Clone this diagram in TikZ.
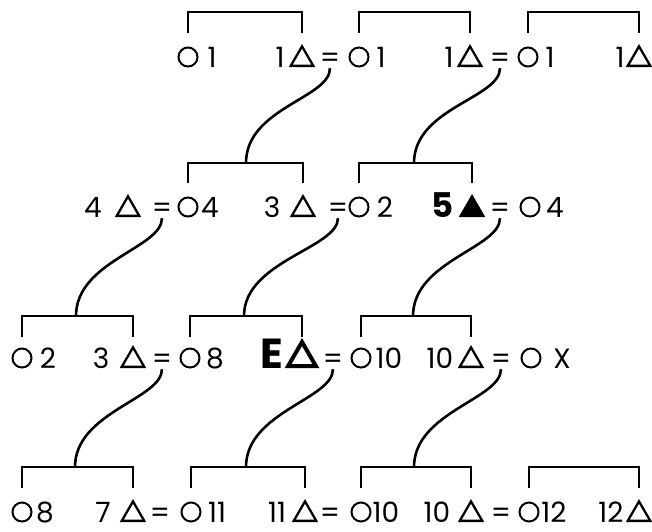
\documentclass[tikz,border=0pt]{standalone}
\usepackage{fontspec}
\setmainfont{Poppins}
\usetikzlibrary{shapes.geometric,calc}
\begin{document}
\begin{tikzpicture}[x=1pt,y=-1pt,
  brk/.style={line width=2.8pt},
  lnk/.style={line width=2.6pt},
  fem/.style={circle,draw,line width=2pt,inner sep=0pt,minimum size=19pt},
  mal/.style={regular polygon,regular polygon sides=3,draw,line width=2.3pt,inner sep=0pt,minimum size=26pt,anchor=south},
  malf/.style={mal,fill=black},
  malb/.style={mal,line width=4pt,minimum size=32pt},
  num/.style={inner sep=0pt,anchor=base,text depth=0pt,font=\fontsize{28}{28}\selectfont},
  bnum/.style={inner sep=0pt,anchor=base,text depth=0pt,font=\bfseries\fontsize{34}{34}\selectfont},
  bbig/.style={inner sep=0pt,anchor=base,text depth=0pt,font=\bfseries\fontsize{42}{42}\selectfont}]
\useasboundingbox (0,0) rectangle (652,531);

% ---------- Row 1 ----------
\node[fem] (fA1) at (188,57) {};
\node[num] (nA1) at (212,67) {1};
\node[num] (nA2) at (280,67) {1};
\node[mal] (mA1) at (302,67) {};
\node[num] (eA1) at (330,67) {=};
\node[fem] (fA2) at (359,57) {};
\node[num] (nA3) at (381,67) {1};
\node[num] (nA4) at (449,67) {1};
\node[mal] (mA2) at (470,67) {};
\node[num] (eA2) at (500,67) {=};
\node[fem] (fA3) at (528,57) {};
\node[num] (nA5) at (550,67) {1};
\node[num] (nA6) at (620,67) {1};
\node[mal] (mA3) at (639,67) {};

\coordinate (jA1) at (245,12);
\coordinate (jA2) at (414,12);
\coordinate (jA3) at (583,12);
\draw[brk] (fA1 |- 0,33) |- (jA1) -| (mA1 |- 0,33);
\draw[brk] (fA2 |- 0,33) |- (jA2) -| (mA2 |- 0,33);
\draw[brk] (fA3 |- 0,33) |- (jA3) -| (mA3 |- 0,33);

% ---------- Row 2 ----------
\node[num] (nB1) at (93,217) {4};
\node[mal] (mB1) at (128,217) {};
\node[num] (eB1) at (162,217) {=};
\node[fem] (fB1) at (188,207) {};
\node[num] (nB2) at (210,217) {4};
\node[num] (nB3) at (272,217) {3};
\node[mal] (mB2) at (303,217) {};
\node[num] (eB2) at (338,217) {=};
\node[fem] (fB2) at (359,207) {};
\node[num] (nB4) at (385,217) {2};
\node[bnum] (nB5) at (443,217) {5};
\node[malf] (mB3) at (472,217) {};
\node[num] (eB3) at (500,217) {=};
\node[fem] (fB3) at (530,207) {};
\node[num] (nB6) at (555,217) {4};

\coordinate (jB1) at (246,163);
\coordinate (jB2) at (414,163);
\draw[brk] (fB1 |- 0,183) |- (jB1) -| (mB2 |- 0,183);
\draw[brk] (fB2 |- 0,183) |- (jB2) -| (mB3 |- 0,183);

% ---------- Row 3 ----------
\node[fem] (fC1) at (22,358) {};
\node[num] (nC1) at (48,368) {2};
\node[num] (nC2) at (101,368) {3};
\node[mal] (mC1) at (133,368) {};
\node[num] (eC1) at (162,368) {=};
\node[fem] (fC2) at (190,358) {};
\node[num] (nC3) at (215,368) {8};
\node[bbig] (nC4) at (272,368) {E};
\node[malb] (mC2) at (302,368) {};
\node[num] (eC2) at (333,368) {=};
\node[fem] (fC3) at (361,358) {};
\node[num] (nC5) at (389,368) {10};
\node[num] (nC6) at (440,368) {10};
\node[mal] (mC3) at (471,368) {};
\node[num] (eC3) at (501,368) {=};
\node[fem] (fC4) at (531,358) {};
\node[num] (nC7) at (562,368) {X};

\coordinate (jC1) at (76,316);
\coordinate (jC2) at (244,316);
\coordinate (jC3) at (413,316);
\draw[brk] (fC1 |- 0,337) |- (jC1) -| (mC1 |- 0,337);
\draw[brk] (fC2 |- 0,337) |- (jC2) -| (mC2 |- 0,337);
\draw[brk] (fC3 |- 0,337) |- (jC3) -| (mC3 |- 0,337);

% ---------- Row 4 ----------
\node[fem] (fD1) at (22,512) {};
\node[num] (nD1) at (45,522) {8};
\node[num] (nD2) at (103,522) {7};
\node[mal] (mD1) at (133,522) {};
\node[num] (eD1) at (160,522) {=};
\node[fem] (fD2) at (191,512) {};
\node[num] (nD3) at (217,522) {11};
\node[num] (nD4) at (277,522) {11};
\node[mal] (mD2) at (305,522) {};
\node[num] (eD2) at (330,522) {=};
\node[fem] (fD3) at (361,512) {};
\node[num] (nD5) at (386,522) {10};
\node[num] (nD6) at (437,522) {10};
\node[mal] (mD3) at (471,522) {};
\node[num] (eD3) at (501,522) {=};
\node[fem] (fD4) at (529,512) {};
\node[num] (nD7) at (554,522) {12};
\node[num] (nD8) at (611,522) {12};
\node[mal] (mD4) at (639,522) {};

\coordinate (jD1) at (75,467);
\coordinate (jD2) at (246,467);
\coordinate (jD3) at (414,467);
\coordinate (jD4) at (584,467);
\draw[brk] (fD1 |- 0,488) |- (jD1) -| (mD1 |- 0,488);
\draw[brk] (fD2 |- 0,488) |- (jD2) -| (mD2 |- 0,488);
\draw[brk] (fD3 |- 0,488) |- (jD3) -| (mD3 |- 0,488);
\draw[brk] (fD4 |- 0,488) |- (jD4) -| (mD4 |- 0,488);

% ---------- descent lines ----------
\foreach \e/\j in {eA1/jB1, eA2/jB2, eB1/jC1, eB2/jC2, eB3/jC3, eC1/jD1, eC2/jD2, eC3/jD3}
  \draw[lnk] ($(\e.south)+(0,1)$) .. controls ($(\e.south)+(0,31)$) and ($(\j)+(0,-55)$) .. (\j);
\end{tikzpicture}
\end{document}
